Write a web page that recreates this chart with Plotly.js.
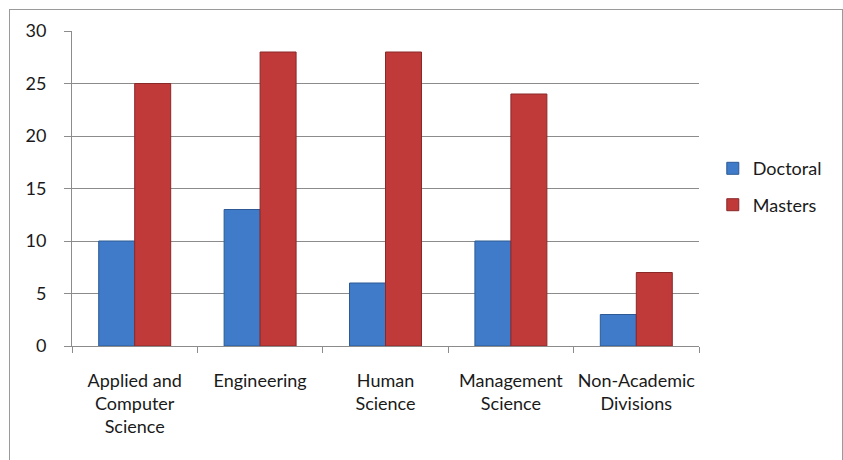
<!DOCTYPE html>
<html>
<head>
<meta charset="utf-8">
<script src="https://cdn.plot.ly/plotly-3.0.1.min.js"></script>
<style>
html,body{margin:0;padding:0;background:#fff;}
#wrap{position:relative;width:843px;height:460px;overflow:hidden;}
#chart{position:absolute;left:0;top:0;width:843px;height:460px;}
#frame{position:absolute;left:9px;top:9px;width:832px;height:470px;border:1px solid #9a9a9a;pointer-events:none;}
</style>
</head>
<body>
<div id="wrap"><div id="chart"></div><div id="frame"></div></div>
<script>
const categories = ["Applied and<br>Computer<br>Science", "Engineering", "Human<br>Science", "Management<br>Science", "Non-Academic<br>Divisions"];
const doctoral = [10, 13, 6, 10, 3];
const masters = [25, 28, 28, 24, 7];
const yTicks = [0, 5, 10, 15, 20, 25, 30];

const font = {family: "Lato, 'Open Sans', sans-serif", size: 18, color: "#1a1a1a"};

const traces = [
  {type: "bar", name: "Doctoral", x: categories, y: doctoral, legendgroup: "d",
   marker: {color: "#3f7bc8", line: {color: "#2d5a94", width: 1}}, hoverinfo: "skip"},
  {type: "bar", name: "Masters", x: categories, y: masters, legendgroup: "m",
   marker: {color: "#c03a3a", line: {color: "#8a2828", width: 1}}, hoverinfo: "skip"}
];

const layout = {
  width: 843, height: 460,
  margin: {l: 72, r: 144, t: 31, b: 114},
  paper_bgcolor: "#ffffff", plot_bgcolor: "#ffffff",
  font: font,
  barmode: "group", bargap: 0.426, bargroupgap: 0,
  showlegend: true,
  legend: {x: 1.022, xanchor: "left", y: 0.506, yanchor: "middle", font: font,
           traceorder: "grouped", tracegroupgap: 10, bgcolor: "rgba(0,0,0,0)"},
  xaxis: {type: "category", showline: true, linecolor: "#8c8c8c", linewidth: 1,
          ticks: "outside", tickson: "boundaries", ticklen: 6, tickcolor: "#8c8c8c",
          tickangle: 0, ticklabelstandoff: 18,
          showgrid: false, zeroline: false, tickfont: font, automargin: false},
  yaxis: {range: [0, 30], tickvals: yTicks, showline: true, linecolor: "#8c8c8c", linewidth: 1,
          ticks: "outside", ticklen: 7, tickcolor: "#8c8c8c", ticklabelstandoff: 14,
          showgrid: true, gridcolor: "#8c8c8c", gridwidth: 1, zeroline: false,
          tickfont: font, automargin: false}
};

Plotly.newPlot("chart", traces, layout, {staticPlot: true, displayModeBar: false});
</script>
</body>
</html>
